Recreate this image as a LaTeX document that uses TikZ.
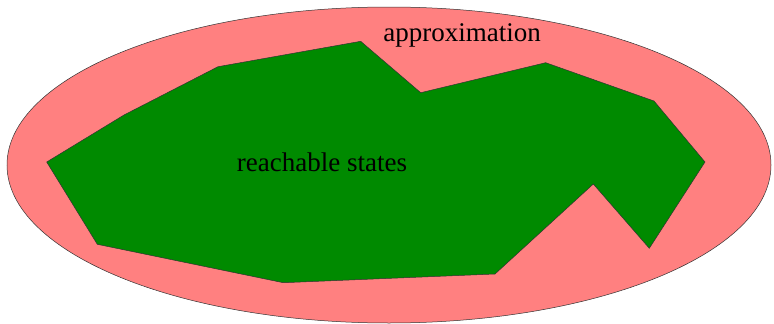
\documentclass[tikz,border=0pt]{standalone}
\usepackage{fontspec}
\setmainfont{Liberation Serif}
\definecolor{approxred}{RGB}{255,128,128}
\definecolor{reachgreen}{RGB}{0,138,0}
\tikzset{
  region/.style={draw=black!80, line width=0.5pt, line join=miter},
  lbl/.style={anchor=base, inner sep=0pt, font=\fontsize{27}{32}\selectfont}
}
\begin{document}
\begin{tikzpicture}[x=1pt,y=-1pt]
\useasboundingbox (0,0) rectangle (774,324);
\fill[approxred, region] (389,165) ellipse [x radius=382, y radius=158];
\fill[reachgreen, region] (46.7,162) -- (124,115) -- (218,66.7) -- (360.7,41.3) -- (420.7,92.7)
  -- (545.7,62.7) -- (654,101) -- (705,162) -- (649.3,248.3) -- (593.3,184)
  -- (495,274) -- (283.3,282.7) -- (97.3,244.3) -- cycle;
\node[lbl] (approx) at (462,41.5) {approximation};
\node[lbl] (reach) at (322,171) {reachable states};
\end{tikzpicture}
\end{document}
